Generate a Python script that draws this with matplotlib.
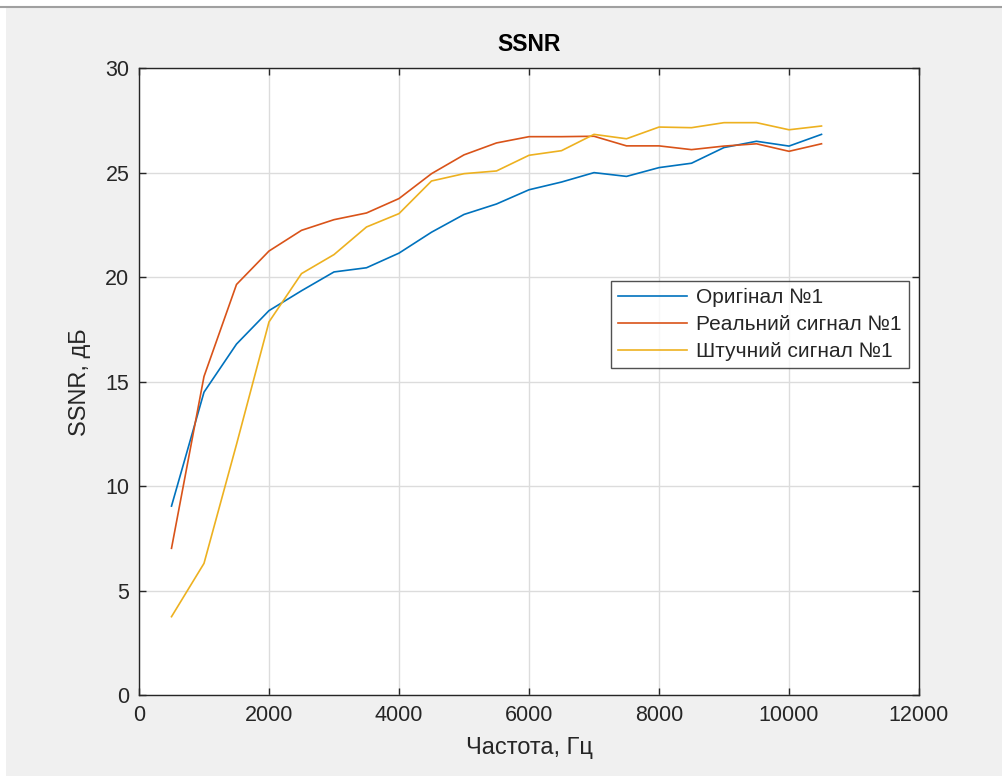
import matplotlib
matplotlib.use("Agg")
import matplotlib.pyplot as plt
from matplotlib.patches import Rectangle
from matplotlib.lines import Line2D

freq = [500, 1000, 1500, 2000, 2500, 3000, 3500, 4000, 4500, 5000, 5500,
        6000, 6500, 7000, 7500, 8000, 8500, 9000, 9500, 10000, 10500]
original = [9.05, 14.5, 16.8, 18.4, 19.35, 20.25, 20.45, 21.15, 22.15, 23.0, 23.5,
            24.18, 24.55, 25.0, 24.82, 25.24, 25.45, 26.2, 26.5, 26.27, 26.83]
real = [7.03, 15.25, 19.65, 21.25, 22.24, 22.75, 23.07, 23.76, 24.95, 25.85, 26.42,
        26.72, 26.72, 26.74, 26.28, 26.28, 26.1, 26.27, 26.38, 26.02, 26.38]
synthetic = [3.76, 6.31, 12.0, 17.86, 20.17, 21.08, 22.4, 23.04, 24.6, 24.95, 25.08,
             25.83, 26.05, 26.83, 26.62, 27.18, 27.15, 27.39, 27.39, 27.05, 27.23]
labels = ["Оригінал №1", "Реальний сигнал №1", "Штучний сигнал №1"]
colors = ["#0072BD", "#D95319", "#EDB120"]

plt.rcParams['font.family'] = ['Liberation Sans', 'DejaVu Sans']

fig = plt.figure(figsize=(10.03, 7.76), dpi=100, facecolor='#f0f0f0')
W, H = 1003, 776
fig.add_artist(Rectangle((0, 0), 6 / W, 1, transform=fig.transFigure,
                         facecolor='white', edgecolor='none', zorder=0))
fig.add_artist(Rectangle((0, 1 - 6 / H), 1, 6 / H, transform=fig.transFigure,
                         facecolor='white', edgecolor='none', zorder=0))
fig.add_artist(Line2D([0, 1], [1 - 7 / H, 1 - 7 / H], transform=fig.transFigure,
                      color='#a0a0a0', lw=1.5))

ax = fig.add_axes([139 / W, 1 - 695.3 / H, 780 / W, 627.2 / H])
ax.set_facecolor('white')
for y, lab, c in zip([original, real, synthetic], labels, colors):
    ax.plot(freq, y, color=c, lw=1.2, label=lab)

ax.set_xlim(0, 12000)
ax.set_ylim(0, 30)
ax.set_xticks(range(0, 12001, 2000))
ax.set_yticks(range(0, 31, 5))
ax.grid(True, color='#dcdcdc', lw=1)
ax.set_axisbelow(True)
ax.tick_params(direction='in', length=5, width=1, top=True, right=True,
               labelsize=15.5, colors='#262626', pad=7)
for s in ax.spines.values():
    s.set_color('#262626')
    s.set_linewidth(1)

ax.set_title("SSNR", fontsize=16.5, fontweight='bold', color='black', pad=12)
ax.set_xlabel("Частота, Гц", fontsize=17, color='#262626', labelpad=8)
ax.set_ylabel("SSNR, дБ", fontsize=17, color='#262626', labelpad=10)

leg = ax.legend(loc='upper left', bbox_to_anchor=((611 - 139) / 780, (695.3 - 281) / 627.2),
                fontsize=15, frameon=True, fancybox=False, handlelength=3.3,
                handletextpad=0.45, borderpad=0.35, labelspacing=0.38,
                borderaxespad=0)
leg.get_frame().set_edgecolor('#262626')
leg.get_frame().set_linewidth(1)
for t in leg.get_texts():
    t.set_color('#262626')

fig.savefig("out.png", dpi=100, facecolor=fig.get_facecolor())
